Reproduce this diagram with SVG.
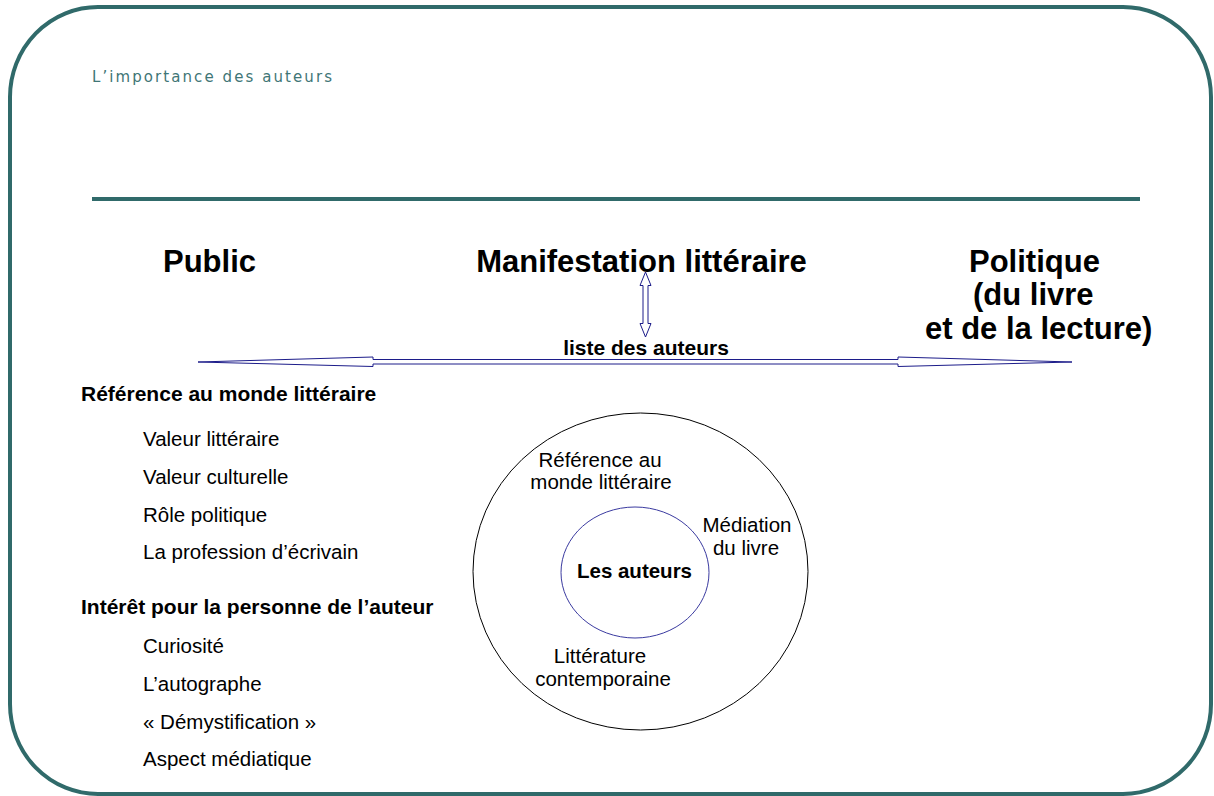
<svg xmlns="http://www.w3.org/2000/svg" width="1214" height="796" viewBox="0 0 1214 796">
<style>
.t{font-family:"Liberation Sans",Arial,sans-serif;fill:#000}
.b{font-weight:bold;font-size:21px}
.big{font-size:31px;font-weight:bold}
.n{font-size:20.5px}
.arr{fill:#fff;stroke:#1c1c8a;stroke-width:1}
</style>
<rect id="frame" x="10" y="7" width="1201" height="787" rx="88" ry="90" fill="#fff" stroke="#306a6a" stroke-width="4"/>
<line x1="92" y1="199" x2="1140" y2="199" stroke="#306a6a" stroke-width="4"/>
<text x="92" y="82" font-family="DejaVu Sans,Verdana,sans-serif" font-size="15" fill="#3f7676" textLength="240" lengthAdjust="spacing">L’importance des auteurs</text>

<g id="public"><text class="t big" x="163" y="272">Public</text></g>
<g id="manifestation"><text class="t big" x="641.5" y="272" text-anchor="middle">Manifestation littéraire</text></g>
<g id="politique">
<text class="t big" x="969" y="272">Politique</text>
<text class="t big" x="973" y="305">(du livre</text>
<text class="t big" x="925" y="339">et de la lecture)</text>
</g>

<g id="connectors">
<polygon class="arr" points="198,362 373,357 373,359.5 898,359.5 898,357 1072,362 898,366.5 898,364 373,364 373,366.5"/>
<polygon class="arr" points="645.5,272 651,285.5 648,285.5 648,323.5 651,323.5 645.5,337 640,323.5 643,323.5 643,285.5 640,285.5"/>
</g>
<g id="liste"><text class="t b" x="646" y="355" text-anchor="middle">liste des auteurs</text></g>

<g id="list">
<text class="t b" x="81" y="401">Référence au monde littéraire</text>
<text class="t n" x="143" y="446">Valeur littéraire</text>
<text class="t n" x="143" y="484">Valeur culturelle</text>
<text class="t n" x="143" y="522">Rôle politique</text>
<text class="t n" x="143" y="559">La profession d’écrivain</text>
<text class="t b" x="81" y="614">Intérêt pour la personne de l’auteur</text>
<text class="t n" x="143" y="653">Curiosité</text>
<text class="t n" x="143" y="691">L’autographe</text>
<text class="t n" x="143" y="729">« Démystification »</text>
<text class="t n" x="143" y="766">Aspect médiatique</text>
</g>

<g id="outer-circle">
<ellipse cx="640.5" cy="571.5" rx="167.5" ry="158.5" fill="none" stroke="#000" stroke-width="1"/>
<text class="t n" x="600" y="467" text-anchor="middle">Référence au</text>
<text class="t n" x="601" y="489" text-anchor="middle">monde littéraire</text>
<text class="t n" x="747" y="532" text-anchor="middle">Médiation</text>
<text class="t n" x="746" y="555" text-anchor="middle">du livre</text>
<text class="t n" x="600" y="663" text-anchor="middle">Littérature</text>
<text class="t n" x="603" y="686" text-anchor="middle">contemporaine</text>
</g>
<g id="inner-circle">
<ellipse cx="635" cy="572.5" rx="74" ry="65.5" fill="none" stroke="#3a3aa0" stroke-width="1"/>
<text class="t b" x="634.5" y="578" text-anchor="middle" style="font-size:20.5px">Les auteurs</text>
</g>
</svg>
